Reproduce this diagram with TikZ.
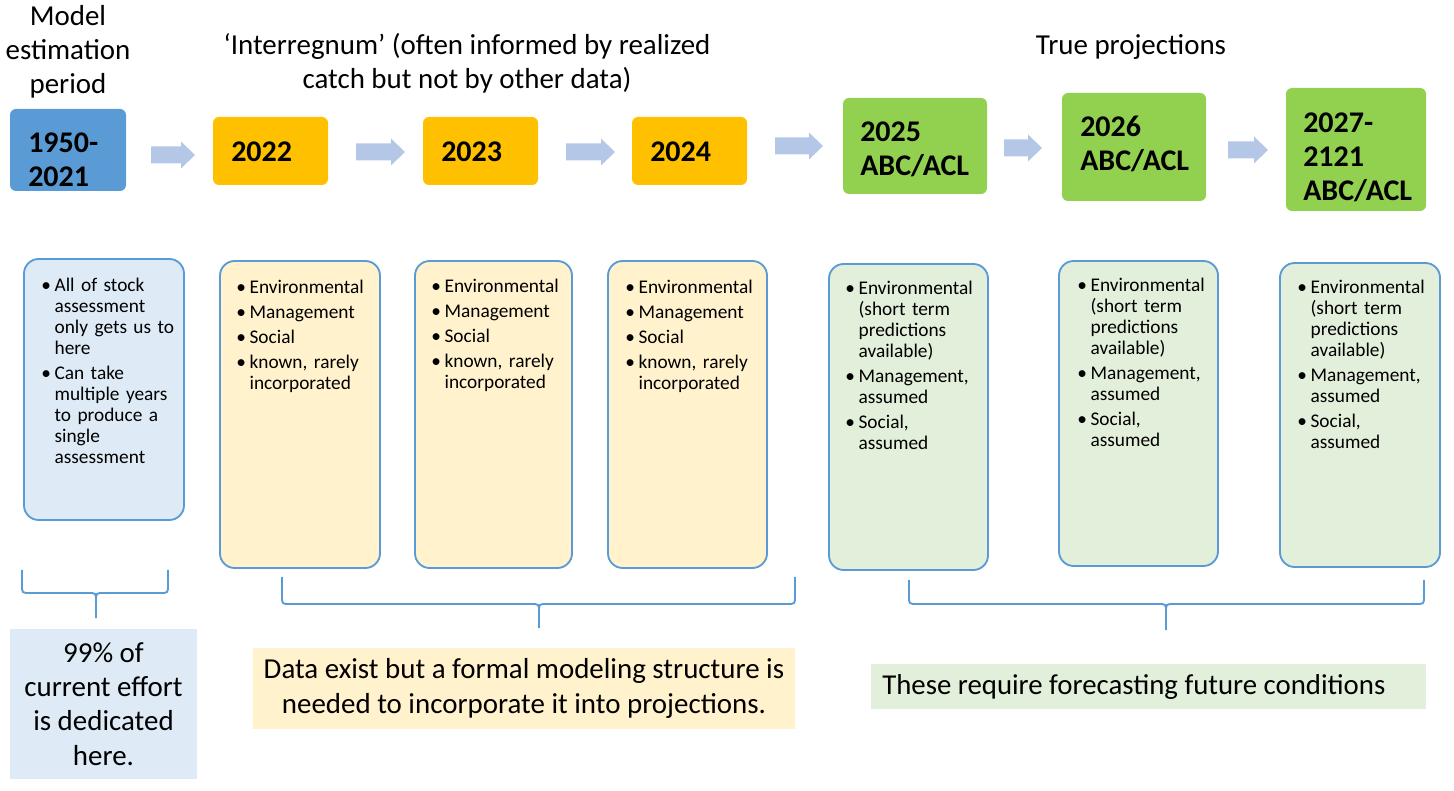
\documentclass[tikz,border=0pt]{standalone}
\usepackage{fontspec}
\setmainfont{Carlito}

\definecolor{periodblue}{HTML}{5B9BD5}
\definecolor{interyellow}{HTML}{FFC000}
\definecolor{projgreen}{HTML}{92D050}
\definecolor{paleblue}{HTML}{DEEBF7}
\definecolor{paleyellow}{HTML}{FFF2CC}
\definecolor{palegreen}{HTML}{E2EFDA}
\definecolor{arrowfill}{HTML}{B4C7E7}

% one bullet point with hanging indent; \brk breaks a line inside it
\newcommand\brk{\newline}
\newcommand\bitem[1]{\par\hangindent=10pt\hangafter=1\noindent\makebox[10pt][l]{\textbullet}#1\par}

% block arrow from x1 to x2 (tip) at height y
\newcommand\flowarrow[3]{%
  \fill[arrowfill] (#1,#3-8.5) -- (#2-14,#3-8.5) -- (#2-14,#3-13.5) -- (#2,#3)
    -- (#2-14,#3+13.5) -- (#2-14,#3+8.5) -- (#1,#3+8.5) -- cycle;}

% horizontal curly brace: x-left, x-right, x-middle, top, bar, tip
\newcommand\hbrace[6]{%
  \draw[bracestyle] (#1,#4) -- (#1,#5-8) .. controls (#1,#5) .. (#1+8,#5)
    -- (#3-8,#5) .. controls (#3,#5) .. (#3,#5+8) -- (#3,#6)
    (#2,#4) -- (#2,#5-8) .. controls (#2,#5) .. (#2-8,#5)
    -- (#3+8,#5) .. controls (#3,#5) .. (#3,#5+8);}

\begin{document}
\begin{tikzpicture}[x=0.75pt,y=-0.75pt,
  headline/.style={font=\fontsize{21.7}{25.5}\selectfont, align=center, inner sep=0},
  yearbox/.style={rectangle, rounded corners=4.5pt, inner sep=0},
  yeartext/.style={font=\fontsize{22.5}{25.5}\selectfont\bfseries, align=left, inner sep=0, anchor=west},
  infobox/.style={rectangle, rounded corners=11pt, draw=periodblue, line width=1.4pt, inner sep=0},
  bullets/.style={font=\fontsize{14.5}{15.75}\selectfont, text width=112pt,
    inner sep=0, anchor=north west,
    execute at begin node={\raggedright\setlength{\parskip}{3pt}}},
  notebox/.style={rectangle, inner sep=0, font=\fontsize{21.7}{25.75}\selectfont, align=center},
  bracestyle/.style={draw=periodblue, line width=1.4pt}]

\useasboundingbox (0,0) rectangle (1454,791);

% headings
\node[headline] (hmodel) at (68,52) {Model\\estimation\\period};
\node[headline] (hinter) at (467,63) {‘Interregnum’ (often informed by realized\\catch but not by other data)};
\node[headline] (htrue) at (1131,47) {True projections};

% period boxes
\node[yearbox, fill=periodblue, minimum width=87pt, minimum height=61.5pt] (b1950) at (68,150) {};
\node[yeartext] (t1950) at (28,160) {1950-\\2021};

\node[yearbox, fill=interyellow, minimum width=86.25pt, minimum height=51pt] (b2022) at (270.5,151) {};
\node[yeartext] (t2022) at (231,152) {2022};
\node[yearbox, fill=interyellow, minimum width=86.25pt, minimum height=51pt] (b2023) at (480.5,151) {};
\node[yeartext] (t2023) at (441,152) {2023};
\node[yearbox, fill=interyellow, minimum width=86.25pt, minimum height=51pt] (b2024) at (689.5,151) {};
\node[yeartext] (t2024) at (650,152) {2024};

\node[yearbox, fill=projgreen, minimum width=108pt, minimum height=72pt] (b2025) at (915,146) {};
\node[yeartext] (t2025) at (860,149) {2025\\ABC/ACL};
\node[yearbox, fill=projgreen, minimum width=108pt, minimum height=81pt] (b2026) at (1134,147) {};
\node[yeartext] (t2026) at (1080,144) {2026\\ABC/ACL};
\node[yearbox, fill=projgreen, minimum width=105pt, minimum height=92.25pt] (b2027) at (1356,149.5) {};
\node[yeartext] (t2027) at (1303,157) {2027-\\2121\\ABC/ACL};

% arrows between periods
\flowarrow{151}{195}{155}
\flowarrow{356}{405}{152}
\flowarrow{566}{615}{152}
\flowarrow{775}{823}{146}
\flowarrow{1004}{1042}{148}
\flowarrow{1228}{1268}{150}

% detail boxes
\node[infobox, fill=paleblue, minimum width=120pt, minimum height=195.75pt] (dA) at (104,389.5) {};
\node[bullets] (lA) at (41,266) {%
  \bitem{All of stock\brk assessment\brk only gets us to\brk here}
  \bitem{Can take\brk multiple years\brk to produce a\brk single\brk assessment}};

\node[infobox, fill=paleyellow, minimum width=120pt, minimum height=230.25pt] (dB) at (300,414.5) {};
\node[bullets] (lB) at (236,268) {%
  \bitem{Environmental}\bitem{Management}\bitem{Social}\bitem{known, rarely\brk incorporated}};
\node[infobox, fill=paleyellow, minimum width=117.75pt, minimum height=230.25pt] (dC) at (493.5,414.5) {};
\node[bullets] (lC) at (431,267) {%
  \bitem{Environmental}\bitem{Management}\bitem{Social}\bitem{known, rarely\brk incorporated}};
\node[infobox, fill=paleyellow, minimum width=119.25pt, minimum height=230.25pt] (dD) at (687.5,414.5) {};
\node[bullets] (lD) at (625,268) {%
  \bitem{Environmental}\bitem{Management}\bitem{Social}\bitem{known, rarely\brk incorporated}};

\node[infobox, fill=palegreen, minimum width=119.25pt, minimum height=229.5pt] (dE) at (908.5,417) {};
\node[bullets] (lE) at (845,269) {%
  \bitem{Environmental\brk (short term\brk predictions\brk available)}\bitem{Management,\brk assumed}\bitem{Social,\brk assumed}};
\node[infobox, fill=palegreen, minimum width=119.25pt, minimum height=228.75pt] (dF) at (1138.5,413.5) {};
\node[bullets] (lF) at (1077,266) {%
  \bitem{Environmental\brk (short term\brk predictions\brk available)}\bitem{Management,\brk assumed}\bitem{Social,\brk assumed}};
\node[infobox, fill=palegreen, minimum width=120pt, minimum height=228pt] (dG) at (1360,415) {};
\node[bullets] (lG) at (1297,268) {%
  \bitem{Environmental\brk (short term\brk predictions\brk available)}\bitem{Management,\brk assumed}\bitem{Social,\brk assumed}};

% braces grouping the periods
\hbrace{22}{168}{96}{570}{593}{618}
\hbrace{282}{795}{539}{577}{604}{628}
\hbrace{909}{1424}{1166}{580}{604}{630}

% summary notes
\node[notebox, fill=paleblue, minimum width=140.25pt, minimum height=112.5pt] (nA) at (103.5,704) {99\% of\\current effort\\is dedicated\\here.};
\node[notebox, fill=paleyellow, minimum width=406.5pt, minimum height=60.75pt] (nB) at (524,688.5) {Data exist but a formal modeling structure is\\needed to incorporate it into projections.};
\node[notebox, fill=palegreen, minimum width=416.25pt, minimum height=33.75pt] (nC) at (1148.5,686.5) {};
\node[inner sep=0, anchor=west, font=\fontsize{21.6}{25.75}\selectfont] (tC) at (882,687) {These require forecasting future conditions};

\end{tikzpicture}
\end{document}
